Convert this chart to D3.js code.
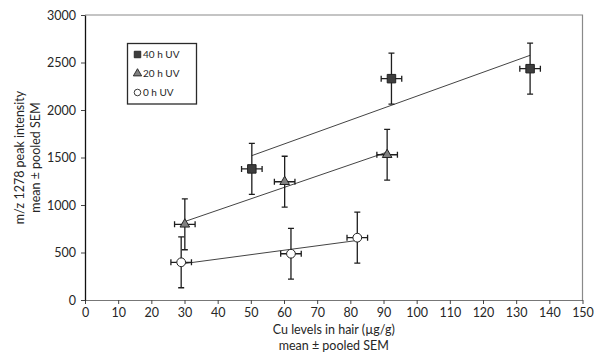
<!DOCTYPE html>
<html>
<head>
<meta charset="utf-8">
<script src="https://cdn.jsdelivr.net/npm/d3@7"></script>
<style>
  body { margin: 0; background: #fff; }
  text { font-family: Lato, "Open Sans", sans-serif; fill: #262626; }
</style>
</head>
<body>
<div id="chart"></div>
<script>
// Data
const series = ["40 h UV", "20 h UV", "0 h UV"];
const cu40 = [50.3, 92.4, 134.2];
const peak40 = [1380, 2330, 2435];
const cu20 = [30.1, 60.2, 91.1];
const peak20 = [797, 1245, 1529];
const cu0 = [29.0, 62.1, 82.1];
const peak0 = [397, 487, 656];
const semY = 268;   // pooled SEM, peak intensity
const semX = 3.1;   // pooled SEM, Cu level
const xTicks = d3.range(0, 151, 10);
const yTicks = d3.range(0, 3001, 500);

const width = 598, height = 358;
const margin = { top: 15, right: 15.5, bottom: 58, left: 85 };

const svg = d3.select("#chart").append("svg")
  .attr("width", width)
  .attr("height", height);

const x = d3.scaleLinear().domain([0, 150]).range([margin.left, width - margin.right]);
const y = d3.scaleLinear().domain([0, 3000]).range([height - margin.bottom, margin.top]);

// frame (top + right, grey)
svg.append("path")
  .attr("d", `M${x(0)},${y(3000)}H${x(150)}V${y(0)}`)
  .attr("fill", "none")
  .attr("stroke", "#8a8a8a")
  .attr("stroke-width", 1.2);

// axes
const xAxis = svg.append("g")
  .attr("transform", `translate(0,${y(0)})`)
  .call(d3.axisBottom(x).tickValues(xTicks).tickFormat(d3.format("d")).tickSize(4).tickSizeOuter(0).tickPadding(4));
xAxis.select(".domain").attr("stroke", "#777").attr("stroke-width", 1.2);
xAxis.selectAll(".tick line").attr("stroke", "#444");
xAxis.selectAll("text").attr("font-size", 12.5).attr("fill", "#262626").style("font-family", "Lato, sans-serif");

const yAxis = svg.append("g")
  .attr("transform", `translate(${x(0)},0)`)
  .call(d3.axisLeft(y).tickValues(yTicks).tickFormat(d3.format("d")).tickSize(4).tickSizeOuter(0).tickPadding(5));
yAxis.select(".domain").attr("stroke", "#111").attr("stroke-width", 1.3);
yAxis.selectAll(".tick line").attr("stroke", "#444");
yAxis.selectAll("text").attr("font-size", 12.5).attr("fill", "#262626").style("font-family", "Lato, sans-serif");

// axis titles
const xTitle = svg.append("text")
  .attr("text-anchor", "middle")
  .attr("font-size", 12.5)
  .attr("transform", `translate(${x(75)},0)`);
xTitle.append("tspan").attr("x", 0).attr("y", 334).text("Cu levels in hair (µg/g)");
xTitle.append("tspan").attr("x", 0).attr("y", 350).text("mean ± pooled SEM");

const yTitle = svg.append("text")
  .attr("text-anchor", "middle")
  .attr("font-size", 12.5)
  .attr("transform", `translate(0,${y(1500)}) rotate(-90)`);
yTitle.append("tspan").attr("x", 0).attr("y", 24).text("m/z 1278 peak intensity");
yTitle.append("tspan").attr("x", 0).attr("y", 40).text("mean ± pooled SEM");

// least-squares line through each series
function fitLine(xs, ys) {
  const mx = d3.mean(xs), my = d3.mean(ys);
  const sxy = d3.sum(xs, (v, i) => (v - mx) * (ys[i] - my));
  const sxx = d3.sum(xs, v => (v - mx) ** 2);
  const b = sxy / sxx, a = my - b * mx;
  const x0 = d3.min(xs), x1 = d3.max(xs);
  return [[x0, a + b * x0], [x1, a + b * x1]];
}

const groups = [
  { name: series[0], xs: cu40, ys: peak40, symbol: d3.symbolSquare, size: 72, fill: "#3d3d3d" },
  { name: series[1], xs: cu20, ys: peak20, symbol: d3.symbolTriangle, size: 40, fill: "#808080" },
  { name: series[2], xs: cu0, ys: peak0, symbol: d3.symbolCircle, size: 60, fill: "#fff" }
];

const line = d3.line().x(d => x(d[0])).y(d => y(d[1]));

groups.forEach(g => {
  svg.append("path")
    .attr("d", line(fitLine(g.xs, g.ys)))
    .attr("fill", "none")
    .attr("stroke", "#444")
    .attr("stroke-width", 1);
});

// error bars
const cap = 3;
groups.forEach(g => {
  const pts = g.xs.map((v, i) => ({ cx: v, cy: g.ys[i] }));
  const eb = svg.append("g").attr("stroke", "#1e1e1e").attr("stroke-width", 1.3).attr("fill", "none");
  pts.forEach(p => {
    const px = x(p.cx), py = y(p.cy);
    const yt = y(p.cy + semY), yb = y(p.cy - semY);
    const xl = x(p.cx - semX), xr = x(p.cx + semX);
    eb.append("path").attr("d",
      `M${px},${yt}V${yb}M${px - cap},${yt}H${px + cap}M${px - cap},${yb}H${px + cap}` +
      `M${xl},${py}H${xr}M${xl},${py - cap}V${py + cap}M${xr},${py - cap}V${py + cap}`);
  });
});

// markers
groups.forEach(g => {
  svg.append("g").selectAll("path")
    .data(g.xs.map((v, i) => [v, g.ys[i]]))
    .join("path")
    .attr("transform", d => `translate(${x(d[0])},${y(d[1])})`)
    .attr("d", d3.symbol().type(g.symbol).size(g.size))
    .attr("fill", g.fill)
    .attr("stroke", "#222")
    .attr("stroke-width", 1);
});

// legend
const legend = svg.append("g").attr("transform", "translate(127.5,43.5)");
legend.append("rect")
  .attr("width", 69)
  .attr("height", 60.5)
  .attr("fill", "#fff")
  .attr("stroke", "#2a2a2a")
  .attr("stroke-width", 1.3);

groups.forEach((g, i) => {
  const ly = 11 + i * 19;
  legend.append("path")
    .attr("transform", `translate(10,${ly})`)
    .attr("d", d3.symbol().type(g.symbol).size(g.symbol === d3.symbolSquare ? 42 : g.symbol === d3.symbolTriangle ? 30 : 34))
    .attr("fill", g.fill)
    .attr("stroke", "#222")
    .attr("stroke-width", 0.9);
  legend.append("text")
    .attr("x", 15.5)
    .attr("y", ly)
    .attr("dy", "0.35em")
    .attr("font-size", 10)
    .text(g.name);
});
</script>
</body>
</html>
